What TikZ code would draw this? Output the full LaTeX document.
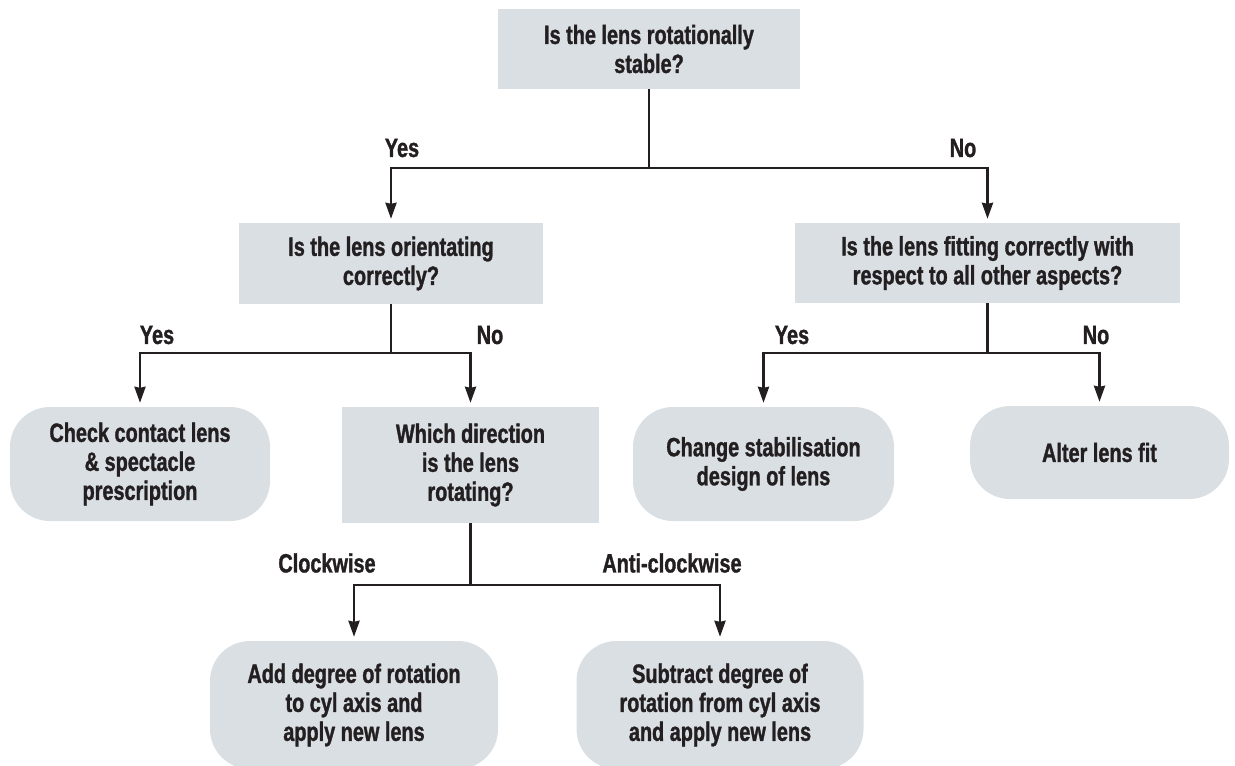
\documentclass[tikz,border=0pt]{standalone}
\usepackage{fontspec}
\setmainfont{Liberation Sans}[FakeStretch=0.8]
\newfontfamily\heavyfont{Liberation Sans Bold}[FakeStretch=0.75,FakeBold=1.2]
\usetikzlibrary{arrows.meta}
\definecolor{boxfill}{RGB}{217,223,227}
\definecolor{ink}{RGB}{35,31,32}
\begin{document}
\begin{tikzpicture}[x=1pt,y=-1pt,
  txt/.style={font=\fontsize{26.5}{29}\selectfont\heavyfont, text=ink, align=center},
  qbox/.style={txt, fill=boxfill, inner sep=0pt},
  rbox/.style={qbox, rounded corners=40pt},
  ln/.style={draw=ink, line width=2.6pt},
  arr/.style={ln, -{Stealth[inset=1pt,length=16pt,width=11pt]}, shorten >=4pt},
  lbl/.style={txt}]
\useasboundingbox (0,0) rectangle (1235,766);

\node[qbox, minimum width=302, minimum height=80] (q1) at (649,49) {Is the lens rotationally\\stable?};
\node[qbox, minimum width=304, minimum height=81] (q2) at (391,263.5) {Is the lens orientating\\correctly?};
\node[qbox, minimum width=385, minimum height=80] (q3) at (987.5,263) {Is the lens fitting correctly with\\respect to all other aspects?};
\node[rbox, minimum width=260, minimum height=114] (r4) at (140,464) {Check contact lens\\\& spectacle\\prescription};
\node[qbox, minimum width=257, minimum height=116] (q5) at (470.5,465) {Which direction\\is the lens\\rotating?};
\node[rbox, minimum width=261, minimum height=114] (r6) at (763.5,464) {Change stabilisation\\design of lens};
\node[rbox, minimum width=259, minimum height=93] (r7) at (1099.5,452.5) {Alter lens fit};
\node[rbox, minimum width=288, minimum height=128] (r8) at (354,705) {Add degree of rotation\\to cyl axis and\\apply new lens};
\node[rbox, minimum width=287, minimum height=128] (r9) at (720,705) {Subtract degree of\\rotation from cyl axis\\and apply new lens};

\coordinate (j1) at (649,168);
\coordinate (j2) at (390,353);
\coordinate (j3) at (988,353);
\coordinate (j4) at (471,585);

\draw[ln] (q1.south) -- (j1);
\draw[arr] (j1) -| (q2.north);
\draw[arr] (j1) -| (q3.north);

\draw[ln] (q2.south) -- (q2.south |- j2);
\draw[arr] (q2.south |- j2) -| (r4.north);
\draw[arr] (q2.south |- j2) -| (q5.north);

\draw[ln] (q3.south) -- (q3.south |- j3);
\draw[arr] (q3.south |- j3) -| (r6.north);
\draw[arr] (q3.south |- j3) -| (r7.north);

\draw[ln] (q5.south) -- (q5.south |- j4);
\draw[arr] (q5.south |- j4) -| (r8.north);
\draw[arr] (q5.south |- j4) -| (r9.north);

\node[lbl] (y1) at (402,148) {Yes};
\node[lbl] (n1) at (963,148) {No};
\node[lbl] (y2) at (157,335) {Yes};
\node[lbl] (n2) at (490,335) {No};
\node[lbl] (y3) at (792,335) {Yes};
\node[lbl] (n3) at (1096,335) {No};
\node[lbl] (cw) at (327,563) {Clockwise};
\node[lbl] (acw) at (672,563) {Anti-clockwise};
\end{tikzpicture}
\end{document}
